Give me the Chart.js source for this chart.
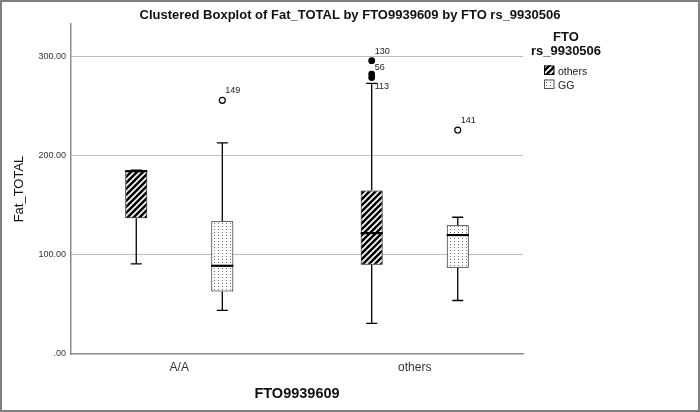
<!DOCTYPE html>
<html><head><meta charset="utf-8">
<script src="https://cdn.jsdelivr.net/npm/chart.js@4.4.1/dist/chart.umd.min.js"></script>
<style>html,body{margin:0;padding:0;background:#fff;} canvas{display:block;}</style>
</head><body>
<canvas id="c" width="700" height="412"></canvas>
<script>
// ---------- data ----------
const categories = ['A/A', 'others'];
const seriesNames = ['others', 'GG'];
const yTickValues = [0, 100, 200, 300];
const yTickLabels = ['.00', '100.00', '200.00', '300.00'];

// series "others"
const othersMin = [91, 31];
const othersQ1 = [137, 90];
const othersMedian = [184.5, 122];
const othersQ3 = [185, 165];
const othersMax = [185.5, 273];
const othersOutliers = [[], [296, 282.5, 279]];
const othersOutlierIds = [[], ['130', '56', '113']];

// series "GG"
const ggMin = [44, 54];
const ggQ1 = [63, 87];
const ggMedian = [89, 120];
const ggQ3 = [134, 130];
const ggMax = [213, 138];
const ggOutliers = [[256], [226]];
const ggOutlierIds = [['149'], ['141']];

// ---------- styles ----------
const FONT = "'Liberation Sans', Arial, sans-serif";
Chart.defaults.font.family = FONT;
const labelDy = { '130': -9, '56': -7, '113': 9, '149': -10, '141': -10 };

function hatchPattern() {
  const s = 6, c = document.createElement('canvas');
  c.width = s; c.height = s;
  const g = c.getContext('2d');
  g.fillStyle = '#000'; g.fillRect(0, 0, s, s);
  g.strokeStyle = '#fff'; g.lineWidth = 1.7;
  g.beginPath();
  g.moveTo(0, s); g.lineTo(s, 0);
  g.moveTo(-1, 1); g.lineTo(1, -1);
  g.moveTo(s - 1, s + 1); g.lineTo(s + 1, s - 1);
  g.stroke();
  return document.getElementById('c').getContext('2d').createPattern(c, 'repeat');
}
function dotPattern() {
  const c = document.createElement('canvas');
  c.width = 4; c.height = 3;
  const g = c.getContext('2d');
  g.fillStyle = '#fff'; g.fillRect(0, 0, 4, 3);
  g.fillStyle = '#6e6e6e'; g.fillRect(2, 1, 1, 1);
  return document.getElementById('c').getContext('2d').createPattern(c, 'repeat');
}
const hatch = hatchPattern();
const dots = dotPattern();

const seriesStats = [
  { min: othersMin, q1: othersQ1, med: othersMedian, q3: othersQ3, max: othersMax, out: othersOutliers, ids: othersOutlierIds, filled: true },
  { min: ggMin, q1: ggQ1, med: ggMedian, q3: ggQ3, max: ggMax, out: ggOutliers, ids: ggOutlierIds, filled: false }
];

const boxPlugin = {
  id: 'boxExtras',
  afterDatasetsDraw(chart) {
    const ctx = chart.ctx, ys = chart.scales.y;
    chart.data.datasets.forEach((ds, di) => {
      const meta = chart.getDatasetMeta(di);
      const st = seriesStats[di];
      meta.data.forEach((bar, i) => {
        const { x, width } = bar.getProps(['x', 'width'], true);
        const cap = width / 2;
        const py = v => ys.getPixelForValue(v);
        ctx.save();
        ctx.strokeStyle = '#000';
        ctx.lineWidth = 1.3;
        ctx.beginPath();
        ctx.moveTo(x, py(st.q1[i])); ctx.lineTo(x, py(st.min[i]));
        ctx.moveTo(x - cap / 2, py(st.min[i])); ctx.lineTo(x + cap / 2, py(st.min[i]));
        ctx.moveTo(x, py(st.q3[i])); ctx.lineTo(x, py(st.max[i]));
        ctx.moveTo(x - cap / 2, py(st.max[i])); ctx.lineTo(x + cap / 2, py(st.max[i]));
        ctx.stroke();
        ctx.lineWidth = 2.2;
        ctx.beginPath();
        ctx.moveTo(x - width / 2, py(st.med[i])); ctx.lineTo(x + width / 2, py(st.med[i]));
        ctx.stroke();
        // outliers
        st.out[i].forEach((v, k) => {
          const oy = py(v);
          ctx.beginPath();
          if (st.filled) {
            ctx.fillStyle = '#000';
            ctx.arc(x, oy, 3.4, 0, Math.PI * 2); ctx.fill();
          } else {
            ctx.lineWidth = 1.2;
            ctx.arc(x, oy, 3, 0, Math.PI * 2); ctx.stroke();
          }
          const id = st.ids[i][k];
          ctx.fillStyle = '#222';
          ctx.font = '9px ' + FONT;
          ctx.textAlign = 'left'; ctx.textBaseline = 'middle';
          ctx.fillText(id, x + 3, oy + (labelDy[id] || -9));
        });
        ctx.restore();
      });
    });
  },
  afterDraw(chart) {
    const ctx = chart.ctx;
    ctx.save();
    // title
    ctx.fillStyle = '#111';
    ctx.font = 'bold 13px ' + FONT;
    ctx.textAlign = 'center'; ctx.textBaseline = 'alphabetic';
    ctx.fillText('Clustered Boxplot of Fat_TOTAL by FTO9939609 by FTO rs_9930506', 350, 19);
    // legend title
    ctx.fillText('FTO', 566, 41);
    ctx.fillText('rs_9930506', 566, 55);
    // legend items
    const pats = [hatch, dots];
    const borders = ['#000', '#555'];
    seriesNames.forEach((name, i) => {
      const top = 65.5 + i * 14;
      ctx.fillStyle = pats[i];
      ctx.fillRect(544, top, 10, 9);
      ctx.strokeStyle = borders[i]; ctx.lineWidth = 1;
      ctx.strokeRect(544.5, top + 0.5, 9.5, 8.5);
      ctx.fillStyle = '#222';
      ctx.font = '10.5px ' + FONT;
      ctx.textAlign = 'left';
      ctx.fillText(name, 558, top + 9);
    });
    // outer frame
    ctx.strokeStyle = '#808080'; ctx.lineWidth = 2;
    ctx.strokeRect(1, 1, 698, 410);
    ctx.restore();
  }
};

const datasets = seriesStats.map((st, di) => ({
  label: seriesNames[di],
  data: categories.map((c, i) => ({ x: i, y: [st.q1[i], st.q3[i]] })),
  backgroundColor: di === 0 ? hatch : dots,
  borderColor: '#000',
  borderWidth: 1,
  borderSkipped: false,
  categoryPercentage: 0.731,
  barPercentage: 0.256
}));

new Chart(document.getElementById('c'), {
  type: 'bar',
  data: { datasets },
  options: {
    responsive: false,
    animation: false,
    events: [],
    layout: { padding: { top: 24, right: 177, left: 0, bottom: 0 } },
    plugins: { legend: { display: false }, tooltip: { enabled: false }, title: { display: false } },
    scales: {
      x: {
        type: 'linear', min: -0.46, max: 1.46, offset: false, bounds: 'data',
        afterBuildTicks: s => { s.ticks = categories.map((c, i) => ({ value: i })); },
        ticks: { callback: v => categories[v], padding: 6, color: '#333', font: { size: 12 }, maxRotation: 0, autoSkip: false },
        grid: { display: false, drawTicks: false },
        border: { display: true, color: '#8c8c8c', width: 1.5 },
        title: { display: true, text: 'FTO9939609', color: '#111', font: { size: 14.5, weight: 'bold' }, padding: { top: 0, bottom: 9 } },
        afterFit: s => { s.height = 58; }
      },
      y: {
        min: 0, max: 333, bounds: 'data',
        afterBuildTicks: s => { s.ticks = yTickValues.map(v => ({ value: v })); },
        ticks: { callback: v => yTickLabels[yTickValues.indexOf(v)], padding: 5, color: '#333', font: { size: 9 } },
        grid: { drawTicks: false, lineWidth: 1, color: c => (c.tick && c.tick.value === 0) ? 'rgba(0,0,0,0)' : '#bdbdbd' },
        border: { display: true, color: '#8c8c8c', width: 1.5 },
        title: { display: true, text: 'Fat_TOTAL', color: '#111', font: { size: 13 }, padding: { top: 12, bottom: 0 } },
        afterFit: s => { s.width = 71; }
      }
    }
  },
  plugins: [boxPlugin]
});
</script>
</body></html>
